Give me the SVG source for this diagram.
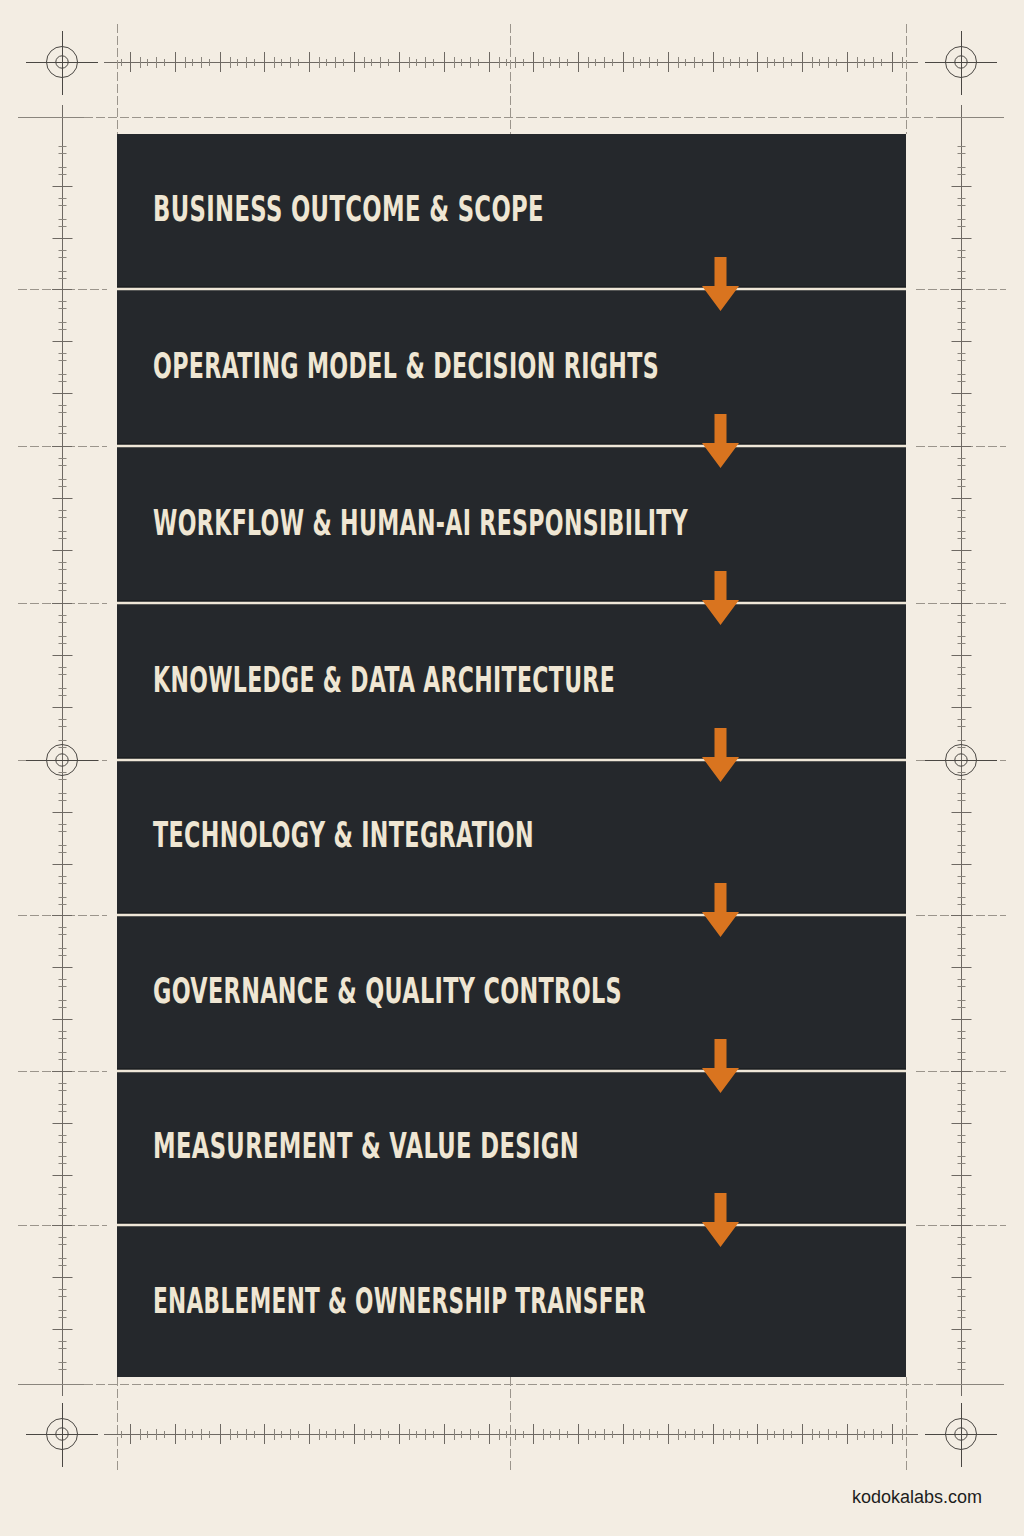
<svg xmlns="http://www.w3.org/2000/svg" xmlns:xlink="http://www.w3.org/1999/xlink" width="1024" height="1536" viewBox="0 0 1024 1536">
<style>
.bg{fill:#f3ede3}
.panel{fill:#25282c}
.div{stroke:#efe7d8;stroke-width:2.5}
.divs{stroke:#141619;stroke-width:1}
.lbl{font-family:"Liberation Sans Narrow","DejaVu Sans Condensed","DejaVu Sans",sans-serif;font-weight:bold;font-size:36px;fill:#efe6d3;letter-spacing:0.5px}
.arr{fill:#d9741f}
.rl{stroke:#6e6963;stroke-width:1;fill:none}
.rt{stroke:#8a857d;stroke-width:1;fill:none}
.dash{stroke:#9b958c;stroke-width:1;stroke-dasharray:9 3;fill:none}
.solid{stroke:#8a857d;stroke-width:1;fill:none}
.cross{stroke:#4a4743;stroke-width:1;fill:none}
.brand{font-family:"Liberation Sans",Arial,sans-serif;font-size:18px;fill:#1d1d1d}
</style>
<defs>
<path id="arrow" class="arr" d="M714.5,-32H726.5V-3H739L720.5,22L702,-3H714.5Z"/>
<g id="hr">
<path class="rl" d="M104,0.5H918"/>
<path class="rl" d="M130.5,-10V10M175.5,-10V10M220.5,-10V10M264.5,-10V10M309.5,-10V10M354.5,-10V10M399.5,-10V10M444.5,-10V10M489.5,-10V10M533.5,-10V10M578.5,-10V10M623.5,-10V10M668.5,-10V10M713.5,-10V10M757.5,-10V10M802.5,-10V10M847.5,-10V10M892.5,-10V10"/>
<path class="rt" d="M121.5,-3v7M140.5,-5v11M156.5,-5v11M185.5,-5v11M201.5,-5v11M230.5,-5v11M246.5,-5v11M274.5,-5v11M290.5,-5v11M319.5,-5v11M335.5,-5v11M364.5,-5v11M380.5,-5v11M409.5,-5v11M425.5,-5v11M454.5,-5v11M470.5,-5v11M499.5,-5v11M515.5,-5v11M543.5,-5v11M559.5,-5v11M588.5,-5v11M604.5,-5v11M633.5,-5v11M649.5,-5v11M678.5,-5v11M694.5,-5v11M723.5,-5v11M739.5,-5v11M767.5,-5v11M783.5,-5v11M812.5,-5v11M828.5,-5v11M857.5,-5v11M873.5,-5v11M902.5,-5v11"/>
<path class="rt" d="M147.5,-3v7M164.5,-3v7M192.5,-3v7M209.5,-3v7M237.5,-3v7M254.5,-3v7M281.5,-3v7M298.5,-3v7M326.5,-3v7M343.5,-3v7M371.5,-3v7M388.5,-3v7M416.5,-3v7M433.5,-3v7M461.5,-3v7M478.5,-3v7M506.5,-3v7M523.5,-3v7M550.5,-3v7M567.5,-3v7M595.5,-3v7M612.5,-3v7M640.5,-3v7M657.5,-3v7M685.5,-3v7M702.5,-3v7M730.5,-3v7M747.5,-3v7M774.5,-3v7M791.5,-3v7M819.5,-3v7M836.5,-3v7M864.5,-3v7M881.5,-3v7"/>
</g>
<g id="vs">
<path class="rl" d="M-10,52.5H10M-10,104.5H10"/>
<path class="rt" d="M-4,12.5h8M-4,19.5h8M-4,33.5h8M-4,40.5h8M-4,64.5h8M-4,71.5h8M-4,85.5h8M-4,92.5h8M-4,116.5h8M-4,123.5h8M-4,137.5h8M-4,144.5h8"/>
</g>
<g id="target">
<circle class="cross" r="15.5"/>
<circle class="cross" r="6.2"/>
<path class="cross" d="M-36,0.5H36"/>
<path class="cross" d="M-36,0.5h3M33,0.5h3" stroke-width="2.5"/>
</g>
</defs>

<rect class="bg" width="1024" height="1536"/>

<g id="frame">
<use xlink:href="#hr" href="#hr" y="62"/>
<use xlink:href="#hr" href="#hr" y="1434"/>
<path class="rl" d="M62.5,105V1396M961.5,105V1396"/>
<g transform="translate(62.5,0)">
<use href="#vs" xlink:href="#vs" y="134"/><use href="#vs" xlink:href="#vs" y="289"/><use href="#vs" xlink:href="#vs" y="446"/><use href="#vs" xlink:href="#vs" y="603"/><use href="#vs" xlink:href="#vs" y="760"/><use href="#vs" xlink:href="#vs" y="915"/><use href="#vs" xlink:href="#vs" y="1071"/><use href="#vs" xlink:href="#vs" y="1225"/>
</g>
<g transform="translate(961.5,0)">
<use href="#vs" xlink:href="#vs" y="134"/><use href="#vs" xlink:href="#vs" y="289"/><use href="#vs" xlink:href="#vs" y="446"/><use href="#vs" xlink:href="#vs" y="603"/><use href="#vs" xlink:href="#vs" y="760"/><use href="#vs" xlink:href="#vs" y="915"/><use href="#vs" xlink:href="#vs" y="1071"/><use href="#vs" xlink:href="#vs" y="1225"/>
</g>
<path class="solid" d="M18,117.5H84M938,117.5H1004M18,1384.5H84M938,1384.5H1004"/>
<path class="dash" d="M84,117.5H938M84,1384.5H938"/>
<path class="dash" d="M117.5,24V134M906.5,24V134M510.5,24V134M117.5,1377V1472M906.5,1377V1472M510.5,1377V1472"/>
<path class="dash" d="M18,289.5H107M18,446.5H107M18,603.5H107M18,760.5H107M18,915.5H107M18,1071.5H107M18,1225.5H107M916,289.5H1006M916,446.5H1006M916,603.5H1006M916,760.5H1006M916,915.5H1006M916,1071.5H1006M916,1225.5H1006"/>
<path class="rl" d="M52,289.5H72M52,446.5H72M52,603.5H72M52,915.5H72M52,1071.5H72M52,1225.5H72M951,289.5H971M951,446.5H971M951,603.5H971M951,915.5H971M951,1071.5H971M951,1225.5H971"/>
<g transform="translate(62,62)"><use href="#target" xlink:href="#target"/><path class="cross" d="M0.5,-31V33"/></g>
<g transform="translate(961,62)"><use href="#target" xlink:href="#target"/><path class="cross" d="M0.5,-31V33"/></g>
<g transform="translate(62,1434)"><use href="#target" xlink:href="#target"/><path class="cross" d="M0.5,-31V33"/></g>
<g transform="translate(961,1434)"><use href="#target" xlink:href="#target"/><path class="cross" d="M0.5,-31V33"/></g>
<g transform="translate(62,760)"><use href="#target" xlink:href="#target"/></g>
<g transform="translate(961,760)"><use href="#target" xlink:href="#target"/></g>
</g>

<rect class="panel" x="117" y="134" width="789" height="1243"/>

<g id="dividers">
<path class="divs" d="M117,287H906M117,444H906M117,601H906M117,758H906M117,913H906M117,1069H906M117,1223H906"/>
<path class="div" d="M117,289H906M117,446H906M117,603H906M117,760H906M117,915H906M117,1071H906M117,1225H906"/>
</g>

<g id="node1"><text class="lbl" x="153" y="221" textLength="391" lengthAdjust="spacingAndGlyphs">BUSINESS OUTCOME &amp; SCOPE</text></g>
<g id="node2"><text class="lbl" x="153" y="378" textLength="506" lengthAdjust="spacingAndGlyphs">OPERATING MODEL &amp; DECISION RIGHTS</text></g>
<g id="node3"><text class="lbl" x="153" y="535" textLength="535" lengthAdjust="spacingAndGlyphs">WORKFLOW &amp; HUMAN-AI RESPONSIBILITY</text></g>
<g id="node4"><text class="lbl" x="153" y="692" textLength="462" lengthAdjust="spacingAndGlyphs">KNOWLEDGE &amp; DATA ARCHITECTURE</text></g>
<g id="node5"><text class="lbl" x="153" y="847" textLength="381" lengthAdjust="spacingAndGlyphs">TECHNOLOGY &amp; INTEGRATION</text></g>
<g id="node6"><text class="lbl" x="153" y="1003" textLength="469" lengthAdjust="spacingAndGlyphs">GOVERNANCE &amp; QUALITY CONTROLS</text></g>
<g id="node7"><text class="lbl" x="153" y="1158" textLength="426" lengthAdjust="spacingAndGlyphs">MEASUREMENT &amp; VALUE DESIGN</text></g>
<g id="node8"><text class="lbl" x="153" y="1313" textLength="493" lengthAdjust="spacingAndGlyphs">ENABLEMENT &amp; OWNERSHIP TRANSFER</text></g>

<g id="connectors">
<use href="#arrow" xlink:href="#arrow" y="289"/>
<use href="#arrow" xlink:href="#arrow" y="446"/>
<use href="#arrow" xlink:href="#arrow" y="603"/>
<use href="#arrow" xlink:href="#arrow" y="760"/>
<use href="#arrow" xlink:href="#arrow" y="915"/>
<use href="#arrow" xlink:href="#arrow" y="1071"/>
<use href="#arrow" xlink:href="#arrow" y="1225"/>
</g>

<text class="brand" x="982" y="1503" text-anchor="end">kodokalabs.com</text>
</svg>
